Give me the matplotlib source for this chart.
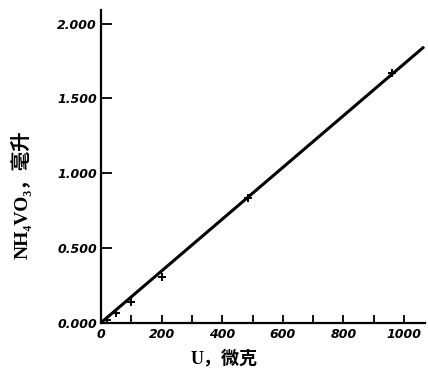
import matplotlib.pyplot as plt
import numpy as np

# measured points (U in micrograms, NH4VO3 in ml)
u_ug = [20, 50, 100, 200, 484, 959]
vo3_ml = [0.02, 0.067, 0.14, 0.303, 0.832, 1.667]

# drawn calibration line end points
line_u = [0, 1063]
line_ml = [0, 1.84]

x_ticks = [0, 200, 400, 600, 800, 1000]
x_minor = [100, 300, 500, 700, 900]
y_ticks = [0.0, 0.5, 1.0, 1.5, 2.0]
y_labels = ['0.000', '0.500', '1.000', '1.500', '2.000']

fig = plt.figure(figsize=(4.28, 3.77), dpi=100)
ax = fig.add_axes([0.236, 0.144, 0.757, 0.829])

ax.plot(line_u, line_ml, color='black', lw=2.2, solid_capstyle='round')
ax.plot(u_ug, vo3_ml, ls='none', marker='+', ms=6, mew=1.4, color='black')

ax.set_xlim(0, 1069)
ax.set_ylim(0, 2.09)
for s in ['top', 'right']:
    ax.spines[s].set_visible(False)
for s in ['left', 'bottom']:
    ax.spines[s].set_linewidth(1.6)

ax.set_xticks(x_ticks)
ax.set_xticks(x_minor, minor=True)
ax.set_yticks(y_ticks)
ax.set_yticklabels(y_labels)
ax.tick_params(axis='x', which='both', direction='in', length=6, width=1.3, pad=4)
ax.tick_params(axis='y', direction='in', length=8, width=1.3, pad=3)
for lab in ax.get_xticklabels() + ax.get_yticklabels():
    lab.set_fontstyle('italic')
    lab.set_fontweight('bold')
    lab.set_fontsize(9)
    lab.set_family('DejaVu Sans')

lab_font = ['Liberation Serif', 'DejaVu Serif', 'Noto Sans CJK SC']
ax.set_xlabel('U，微克', family=lab_font, fontsize=13, fontweight='bold')
ax.xaxis.set_label_coords(0.38, -0.085)
ax.set_ylabel('NH₄VO₃，毫升', family=lab_font, fontsize=14, fontweight='bold')
ax.yaxis.set_label_coords(-0.213, 0.41)

fig.savefig('out.png', dpi=100)
